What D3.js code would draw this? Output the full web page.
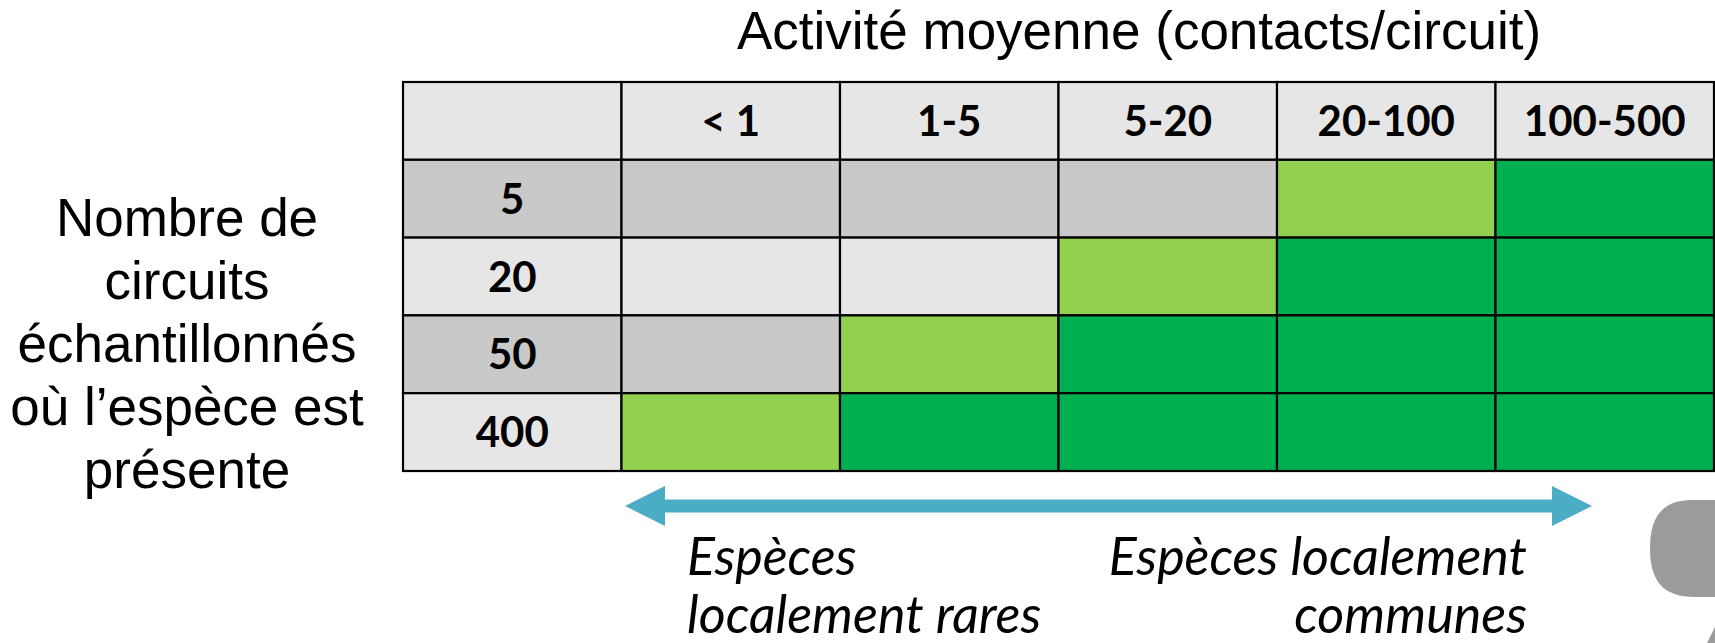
<!DOCTYPE html>
<html>
<head>
<meta charset="utf-8">
<script src="https://cdn.jsdelivr.net/npm/d3@7/dist/d3.min.js"></script>
<style>
  html, body { margin: 0; padding: 0; background: #fff; }
  svg { display: block; }
  .axis-title { font-family: "Liberation Sans", Arial, sans-serif; font-size: 53px; fill: #000; }
  .cell-label { font-family: Lato, "Open Sans", sans-serif; font-weight: 700; font-size: 42px; fill: #000; }
  .note { font-family: Lato, "Open Sans", sans-serif; font-style: italic; font-size: 52px; fill: #000; }
</style>
</head>
<body>
<script>
// column categories (mean activity, contacts per circuit)
var activityBins = ["< 1", "1-5", "5-20", "20-100", "100-500"];
// row categories (number of sampled circuits where the species is present)
var circuitCounts = ["5", "20", "50", "400"];
// 0 = not rated, 1 = light green, 2 = dark green
// (not called "status": that would clash with window.status)
var cellStatus = [
    [0, 0, 0, 1, 2],
    [0, 0, 1, 2, 2],
    [0, 1, 2, 2, 2],
    [1, 2, 2, 2, 2]
];
var yTitleLines = ["Nombre de", "circuits", "échantillonnés", "où l’espèce est", "présente"];
var xTitle = "Activité moyenne (contacts/circuit)";
var leftNote = ["Espèces", "localement rares"];
var rightNote = ["Espèces localement", "communes"];

var width = 1715;
var height = 643;

var svg = d3.select("body")
    .append("svg")
    .attr("width", width)
    .attr("height", height);

var x = d3.scaleBand()
    .domain(["label"].concat(activityBins))
    .range([403, 1714]);

var y = d3.scaleBand()
    .domain(["header"].concat(circuitCounts))
    .range([82, 471]);

var lightGray = "#e7e6e6";
var darkGray = "#c9c9c9";
var statusColor = d3.scaleOrdinal()
    .domain([1, 2])
    .range(["#92d050", "#00b050"]);

// banded background per row
function rowGray(i) {
    return i % 2 === 0 ? darkGray : lightGray;
}

var cells = [];
cells.push({col: "label", row: "header", fill: lightGray, text: ""});
activityBins.forEach(function(b) {
    cells.push({col: b, row: "header", fill: lightGray, text: b});
});
circuitCounts.forEach(function(c, i) {
    cells.push({col: "label", row: c, fill: rowGray(i), text: c});
    activityBins.forEach(function(b, j) {
        var s = cellStatus[i][j];
        cells.push({col: b, row: c, fill: s === 0 ? rowGray(i) : statusColor(s), text: ""});
    });
});

var grid = svg.append("g").attr("class", "grid");

grid.selectAll("rect")
    .data(cells)
    .enter()
    .append("rect")
    .attr("x", function(d) { return x(d.col); })
    .attr("y", function(d) { return y(d.row); })
    .attr("width", x.bandwidth())
    .attr("height", y.bandwidth())
    .attr("fill", function(d) { return d.fill; })
    .attr("stroke", "#000")
    .attr("stroke-width", 2.2);

grid.selectAll("text")
    .data(cells.filter(function(d) { return d.text !== ""; }))
    .enter()
    .append("text")
    .attr("class", "cell-label")
    .attr("x", function(d) { return x(d.col) + x.bandwidth() / 2; })
    .attr("y", function(d) { return y(d.row) + y.bandwidth() / 2; })
    .attr("dy", "0.36em")
    .attr("text-anchor", "middle")
    .text(function(d) { return d.text; });

// axis titles
svg.append("text")
    .attr("class", "axis-title")
    .attr("x", 1139)
    .attr("y", 49)
    .attr("text-anchor", "middle")
    .text(xTitle);

svg.append("g")
    .selectAll("text")
    .data(yTitleLines)
    .enter()
    .append("text")
    .attr("class", "axis-title")
    .attr("x", 187)
    .attr("y", function(d, i) { return 236 + i * 63; })
    .attr("text-anchor", "middle")
    .text(function(d) { return d; });

// double arrow from rare to common
var arrowY = 506;
var ax0 = 625, ax1 = 1592, head = 40, halfHead = 20, halfShaft = 6.5;
svg.append("path")
    .attr("d", [
        "M", ax0, arrowY,
        "L", ax0 + head, arrowY - halfHead,
        "L", ax0 + head, arrowY - halfShaft,
        "L", ax1 - head, arrowY - halfShaft,
        "L", ax1 - head, arrowY - halfHead,
        "L", ax1, arrowY,
        "L", ax1 - head, arrowY + halfHead,
        "L", ax1 - head, arrowY + halfShaft,
        "L", ax0 + head, arrowY + halfShaft,
        "L", ax0 + head, arrowY + halfHead,
        "Z"
    ].join(" "))
    .attr("fill", "#4bacc6");

svg.append("g")
    .selectAll("text")
    .data(leftNote)
    .enter()
    .append("text")
    .attr("class", "note")
    .attr("x", 687)
    .attr("y", function(d, i) { return 575 + i * 58; })
    .text(function(d) { return d; });

svg.append("g")
    .selectAll("text")
    .data(rightNote)
    .enter()
    .append("text")
    .attr("class", "note")
    .attr("x", 1527)
    .attr("y", function(d, i) { return 575 + i * 58; })
    .attr("text-anchor", "end")
    .text(function(d) { return d; });

// cropped grey shape at the right edge
svg.append("path")
    .attr("d", "M1715,500 L1692,500 C1660,500 1650,520 1650,548 C1650,580 1662,597 1695,597 L1715,597 Z")
    .attr("fill", "#9b9a9c");
svg.append("path")
    .attr("d", "M1715,627 L1715,643 L1707,643 Z")
    .attr("fill", "#9b9a9c");
</script>
</body>
</html>
